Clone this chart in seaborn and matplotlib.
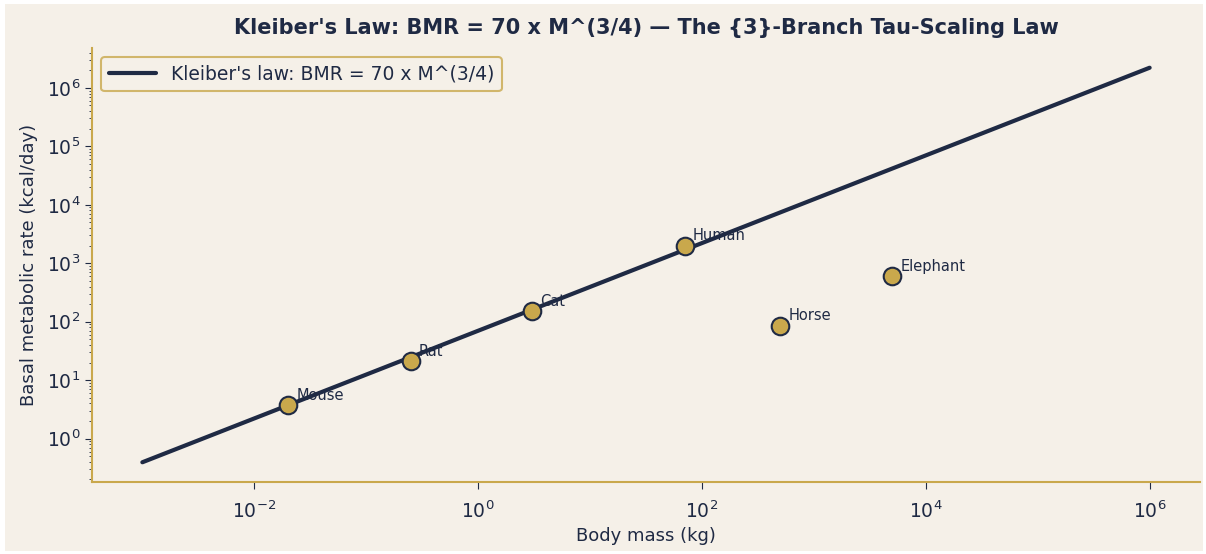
import numpy as np
import pandas as pd
import matplotlib
matplotlib.use("Agg")
import matplotlib.pyplot as plt
import seaborn as sns
from matplotlib.patches import Rectangle

NAVY = "#1f2a44"
GOLD = "#c9a84c"
BG = "#f5f0e8"

# data
animals = ["Mouse", "Rat", "Cat", "Human", "Horse", "Elephant"]
mass_kg = [0.02, 0.25, 3.0, 70.0, 500.0, 5000.0]
bmr_kcal = [3.7, 21.0, 150.0, 2000.0, 85.0, 600.0]

# Kleiber line endpoints (mass range)
line_mass = [1e-3, 1e6]

# major tick decades shown on each axis
x_decades = [-2, 0, 2, 4, 6]
y_decades = [0, 1, 2, 3, 4, 5, 6]

df = pd.DataFrame({"animal": animals, "mass": mass_kg, "bmr": bmr_kcal})
line_x = np.logspace(np.log10(line_mass[0]), np.log10(line_mass[1]), 200)
line_df = pd.DataFrame({"mass": line_x, "bmr": 70 * line_x ** 0.75})

sns.set_style("white")
plt.rcParams["font.family"] = ["DejaVu Sans"]

fig = plt.figure(figsize=(12.06, 5.54), dpi=100, facecolor="white")
fig.patches.append(Rectangle((5 / 1206, 3 / 554), 1198 / 1206, 547 / 554,
                             transform=fig.transFigure, facecolor=BG,
                             edgecolor="none", zorder=-10))
ax = fig.add_axes([92 / 1206, 72 / 554, 1108 / 1206, 434 / 554])
ax.set_facecolor(BG)

sns.lineplot(data=line_df, x="mass", y="bmr", ax=ax, color=NAVY, linewidth=3,
             label="Kleiber's law: BMR = 70 x M^(3/4)")
sns.scatterplot(data=df, x="mass", y="bmr", ax=ax, color=GOLD, edgecolor=NAVY,
                linewidth=1.5, s=160, zorder=5, legend=False)
ax.set_xscale("log")
ax.set_yscale("log")
ax.autoscale_view()
xl, yl = ax.get_xlim(), ax.get_ylim()
ax.set_xticks([10.0 ** k for k in x_decades],
              [f"$\\mathdefault{{10^{{{k}}}}}$" for k in x_decades])
ax.set_yticks([10.0 ** k for k in y_decades],
              [f"$\\mathdefault{{10^{{{k}}}}}$" for k in y_decades])
ax.set_xlim(xl)
ax.set_ylim(yl)

for _, r in df.iterrows():
    ax.annotate(r["animal"], (r["mass"], r["bmr"]), xytext=(6, 4),
                textcoords="offset points", fontsize=10.5, color=NAVY)

ax.set_title("Kleiber's Law: BMR = 70 x M^(3/4) \u2014 The {3}-Branch Tau-Scaling Law",
             fontsize=15, fontweight="bold", color=NAVY, pad=10)
ax.set_xlabel("Body mass (kg)", fontsize=13, color=NAVY, labelpad=4)
ax.set_ylabel("Basal metabolic rate (kcal/day)", fontsize=13, color=NAVY, labelpad=6)
ax.tick_params(axis="both", which="both", colors=NAVY, labelsize=13.5)
ax.tick_params(axis="x", which="major", pad=8)
ax.tick_params(axis="both", which="major", length=5, direction="out", bottom=True, left=True)
ax.tick_params(axis="both", which="minor", length=2.5, bottom=True, left=True)

for side in ["top", "right"]:
    ax.spines[side].set_visible(False)
for side in ["left", "bottom"]:
    ax.spines[side].set_color(GOLD)
    ax.spines[side].set_linewidth(1.5)

leg = ax.legend(loc="upper left", fontsize=13.5, frameon=True, facecolor=BG,
                edgecolor=GOLD, labelcolor=NAVY, handlelength=2.5)
leg.get_frame().set_linewidth(1.5)

fig.savefig("out.png", dpi=100, facecolor="white")
